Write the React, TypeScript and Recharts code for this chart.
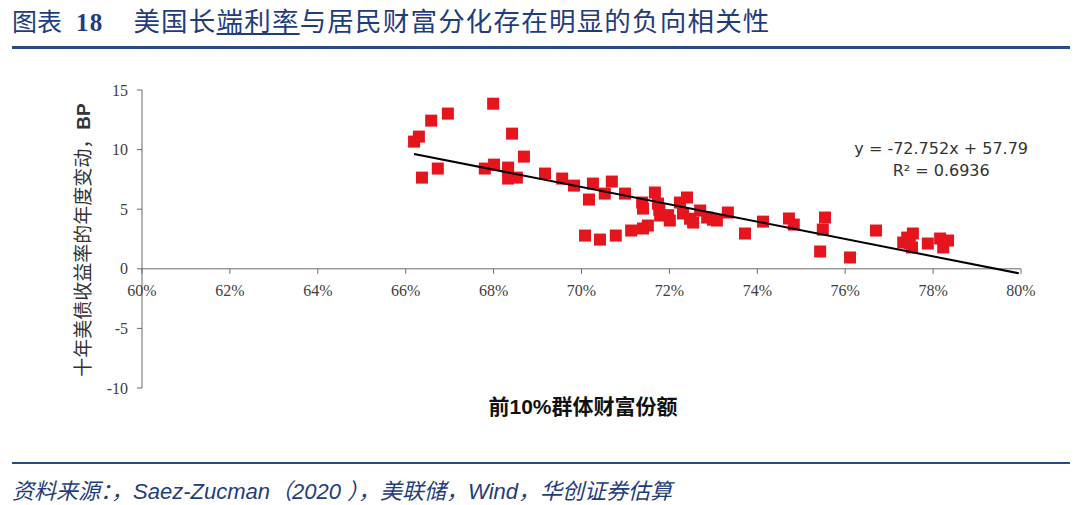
import React from 'react';
import { ScatterChart, Scatter, XAxis, YAxis, ReferenceLine } from 'recharts';

// Top-10% wealth share (%) vs annual change of 10Y UST yield (BP)
const wealthShare = [
  66.19, 66.30, 66.58, 66.96, 66.37, 66.73, 67.99, 68.42, 68.69, 67.80,
  68.01, 68.33, 68.33, 68.53, 69.17, 69.56, 69.83, 70.26, 70.17, 70.53,
  70.69, 70.99, 71.38, 71.40, 71.67, 71.74, 70.08, 70.42, 70.78, 71.13,
  71.40, 71.51, 71.77, 71.79, 72.01, 72.24, 72.40, 72.31, 72.54, 72.70,
  72.86, 73.08, 73.33, 73.72, 74.13, 74.72, 74.83, 75.54, 75.49, 75.43,
  76.11, 76.70, 77.32, 77.41, 77.52, 77.54, 77.47, 77.88, 78.16, 78.23,
  78.34, 71.97, 72.47, 72.99,
];
const yieldChange = [
  10.67, 11.09, 12.43, 13.02, 7.65, 8.41, 13.85, 11.34, 9.41, 8.41,
  8.74, 8.49, 7.57, 7.65, 7.99, 7.57, 6.98, 7.15, 5.81, 6.31,
  7.32, 6.31, 5.56, 5.05, 6.40, 5.47, 2.79, 2.45, 2.79, 3.21,
  3.38, 3.63, 4.95, 4.47, 4.05, 5.56, 5.98, 4.64, 3.88, 4.89,
  4.30, 4.05, 4.72, 2.96, 3.96, 4.22, 3.71, 4.30, 3.29, 1.45,
  0.95, 3.21, 2.20, 2.62, 1.79, 2.96, 2.12, 2.12, 2.54, 1.79,
  2.37, 4.50, 4.20, 4.12,
];
// Trend line y = -72.752x + 57.79 (x as fraction)
const trendX = [66.19, 79.95];
const SLOPE = -72.752;
const INTERCEPT = 57.79;

const xTicks = [60, 62, 64, 66, 68, 70, 72, 74, 76, 78, 80];
const yTicks = [-10, -5, 0, 5, 10, 15];
const X_MIN = 60, X_MAX = 80, Y_MIN = -10, Y_MAX = 15;

const points = wealthShare.map((x, i) => ({ x, y: yieldChange[i] }));
const trendData = trendX.map((x) => ({ x, y: SLOPE * (x / 100) + INTERCEPT }));

const W = 1080;
const H = 505;
const MARGIN = { top: 90, right: 59, bottom: 87, left: 100 };
const YAXIS_W = 42;
const XAXIS_H = 30;
const PLOT_H = H - MARGIN.top - MARGIN.bottom - XAXIS_H;
const ZERO_Y = MARGIN.top + (PLOT_H * (Y_MAX - 0)) / (Y_MAX - Y_MIN);

const RED = '#E6141C';
const BLUE = '#1F3C7C';
const AXIS = '#6b6b6b';

const Square = (props: any) => {
  const { cx, cy } = props;
  if (cx == null || cy == null) return null;
  return <rect x={cx - 6} y={cy - 6} width={12} height={12} fill={RED} />;
};

const NoShape = () => <g />;

const XTick = (props: any) => {
  const { x, payload } = props;
  return (
    <g>
      <line x1={x} x2={x} y1={ZERO_Y} y2={ZERO_Y + 5} stroke={AXIS} strokeWidth={1} />
      <text
        x={x}
        y={ZERO_Y + 27}
        textAnchor="middle"
        fontFamily="'Liberation Serif', serif"
        fontSize={16}
        fill="#404040"
      >
        {payload.value}%
      </text>
    </g>
  );
};

const latin = { fontFamily: "'Liberation Sans Narrow', 'Liberation Sans', sans-serif" };

export default function App() {
  return (
    <div style={{ position: 'absolute', left: 0, top: 0, width: W, height: H, background: '#fff', overflow: 'hidden' }}>
      <div
        style={{
          position: 'absolute',
          left: 12,
          top: 3,
          fontFamily: "'Noto Sans CJK SC', sans-serif",
          fontSize: 26.5,
          lineHeight: '34px',
          color: BLUE,
          whiteSpace: 'nowrap',
          letterSpacing: 1.2,
        }}
      >
        <span style={{ letterSpacing: 0, fontSize: 25 }}>图表</span>
        <span style={{ fontFamily: "'Liberation Serif', serif", fontWeight: 700, marginLeft: 14, fontSize: 25 }}>18</span>
        <span style={{ marginLeft: 30 }}>美国长</span>
        <span style={{ textDecoration: 'underline' }}>端利率</span>
        <span>与居民财富分化存在明显的负向相关性</span>
      </div>
      <div style={{ position: 'absolute', left: 12, top: 46, width: 1058, height: 3, background: '#2B4A8A' }} />

      <ScatterChart width={W} height={H} margin={MARGIN} style={{ position: 'absolute', left: 0, top: 0 }}>
        <XAxis
          type="number"
          dataKey="x"
          domain={[X_MIN, X_MAX]}
          ticks={xTicks}
          height={XAXIS_H}
          axisLine={false}
          tickLine={false}
          tick={<XTick />}
          interval={0}
        />
        <YAxis
          type="number"
          dataKey="y"
          domain={[Y_MIN, Y_MAX]}
          ticks={yTicks}
          width={YAXIS_W}
          interval={0}
          axisLine={{ stroke: AXIS }}
          tickLine={{ stroke: AXIS }}
          tickSize={5}
          tickMargin={9}
          tick={{ fontFamily: "'Liberation Serif', serif", fontSize: 16, fill: '#404040' }}
        />
        <ReferenceLine y={0} stroke={AXIS} strokeWidth={1} />
        <Scatter data={points} shape={<Square />} isAnimationActive={false} />
        <Scatter
          data={trendData}
          line={{ stroke: '#000', strokeWidth: 2 }}
          shape={<NoShape />}
          isAnimationActive={false}
        />
      </ScatterChart>

      <div
        style={{
          position: 'absolute',
          left: 81,
          top: 240,
          transform: 'translate(-50%, -50%) rotate(-90deg)',
          whiteSpace: 'nowrap',
          fontFamily: "'Noto Sans CJK SC', sans-serif",
          fontSize: 19,
          color: '#333',
        }}
      >
        十年美债收益率的年度变动，
        <span style={{ fontFamily: "'Liberation Sans', sans-serif", fontWeight: 700 }}>BP</span>
      </div>

      <div
        style={{
          position: 'absolute',
          left: 583,
          top: 405,
          transform: 'translate(-50%, -50%)',
          whiteSpace: 'nowrap',
          fontFamily: "'Noto Sans CJK SC', sans-serif",
          fontWeight: 700,
          fontSize: 21,
          color: '#111',
        }}
      >
        前<span style={{ fontFamily: "'Liberation Sans', sans-serif" }}>10%</span>群体财富份额
      </div>

      <div
        style={{
          position: 'absolute',
          right: 52,
          top: 138,
          textAlign: 'center',
          fontFamily: "'DejaVu Sans', sans-serif",
          fontSize: 16,
          lineHeight: '22px',
          color: '#333',
          whiteSpace: 'nowrap',
        }}
      >
        <div>y = -72.752x + 57.79</div>
        <div>R² = 0.6936</div>
      </div>

      <div style={{ position: 'absolute', left: 12, top: 462, width: 1058, height: 2, background: '#2B4A8A' }} />
      <div
        style={{
          position: 'absolute',
          left: 12,
          top: 474,
          fontFamily: "'Noto Sans CJK SC', sans-serif",
          fontStyle: 'italic',
          fontSize: 22,
          lineHeight: '30px',
          color: BLUE,
          whiteSpace: 'nowrap',
        }}
      >
        资料来源：，<span style={latin}>Saez-Zucman</span>（<span style={latin}>2020 </span>），美联储，<span style={latin}>Wind</span>，华创证券估算
      </div>
    </div>
  );
}
